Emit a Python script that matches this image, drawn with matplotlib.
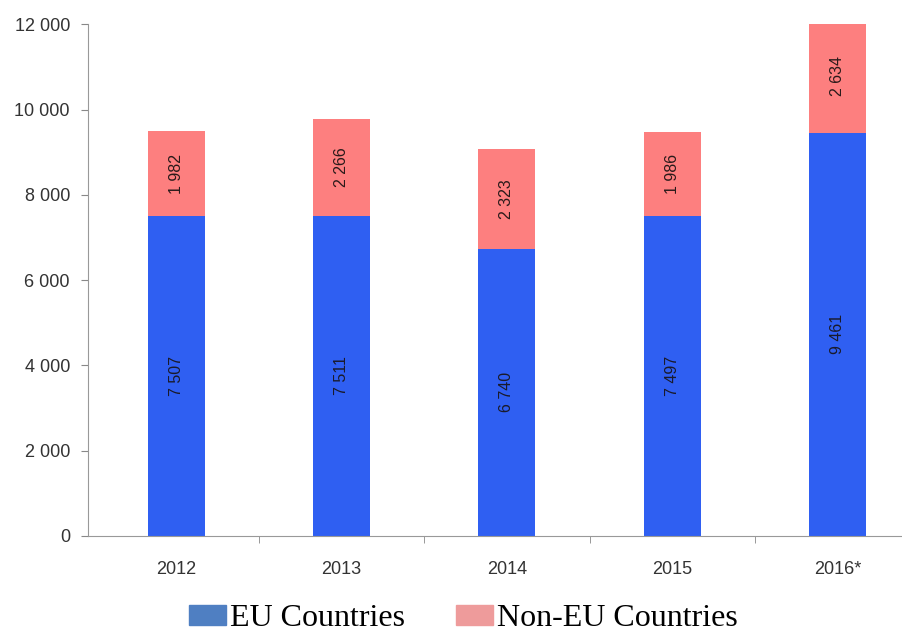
import numpy as np
import matplotlib.pyplot as plt
from matplotlib.patches import Patch
from matplotlib.ticker import FuncFormatter

years = ["2012", "2013", "2014", "2015", "2016*"]
eu = [7507, 7511, 6740, 7497, 9461]
non_eu = [1982, 2266, 2323, 1986, 2634]

def spaced(v):
    return f"{int(v):,}".replace(",", " ")

fig = plt.figure(figsize=(9.02, 6.38), dpi=100)
ax = fig.add_axes([0.0976, 0.16, 0.9024, 0.802])

x = np.arange(len(years))
w = 0.345
blue = "#2f5ff2"
pink = "#fd7f7f"
ax.bar(x, eu, w, color=blue)
ax.bar(x, non_eu, w, bottom=eu, color=pink)

# value labels, rotated inside each segment
for i in range(len(years)):
    ax.text(x[i], eu[i] / 2, spaced(eu[i]), rotation=90, ha="center", va="center",
            fontsize=11.5, color="#1a1a2a", family="Liberation Sans")
    ax.text(x[i], eu[i] + non_eu[i] / 2, spaced(non_eu[i]), rotation=90, ha="center",
            va="center", fontsize=11.5, color="#2a1a1a", family="Liberation Sans")

ax.set_xlim(-0.533, 4.39)
ax.set_ylim(0, 12000)
ax.set_yticks(range(0, 12001, 2000))
ax.yaxis.set_major_formatter(FuncFormatter(lambda v, p: spaced(v)))
ax.set_xticks(x)
ax.set_xticklabels(years)
ax.set_xticks(x[:-1] + 0.5, minor=True)
ax.tick_params(axis="x", which="major", length=0, pad=18)
ax.tick_params(axis="x", which="minor", length=5, color="#888888")
ax.tick_params(axis="y", length=5, color="#888888", pad=8)
for lab in ax.get_xticklabels() + ax.get_yticklabels():
    lab.set_family("Liberation Sans")
    lab.set_fontsize(13)
    lab.set_color("#333333")

for s in ["top", "right"]:
    ax.spines[s].set_visible(False)
for s in ["left", "bottom"]:
    ax.spines[s].set_color("#999999")

handles = [Patch(color="#4f7fc2", label="EU Countries"),
           Patch(color="#ee9b9b", label="Non-EU Countries")]
fig.legend(handles=handles, loc="lower center", bbox_to_anchor=(0.514, -0.038), ncol=2,
           frameon=False, handlelength=1.16, handleheight=0.56, handletextpad=0.12,
           columnspacing=1.6, prop={"family": "Liberation Serif", "size": 23})

fig.savefig("out.png", dpi=100)
